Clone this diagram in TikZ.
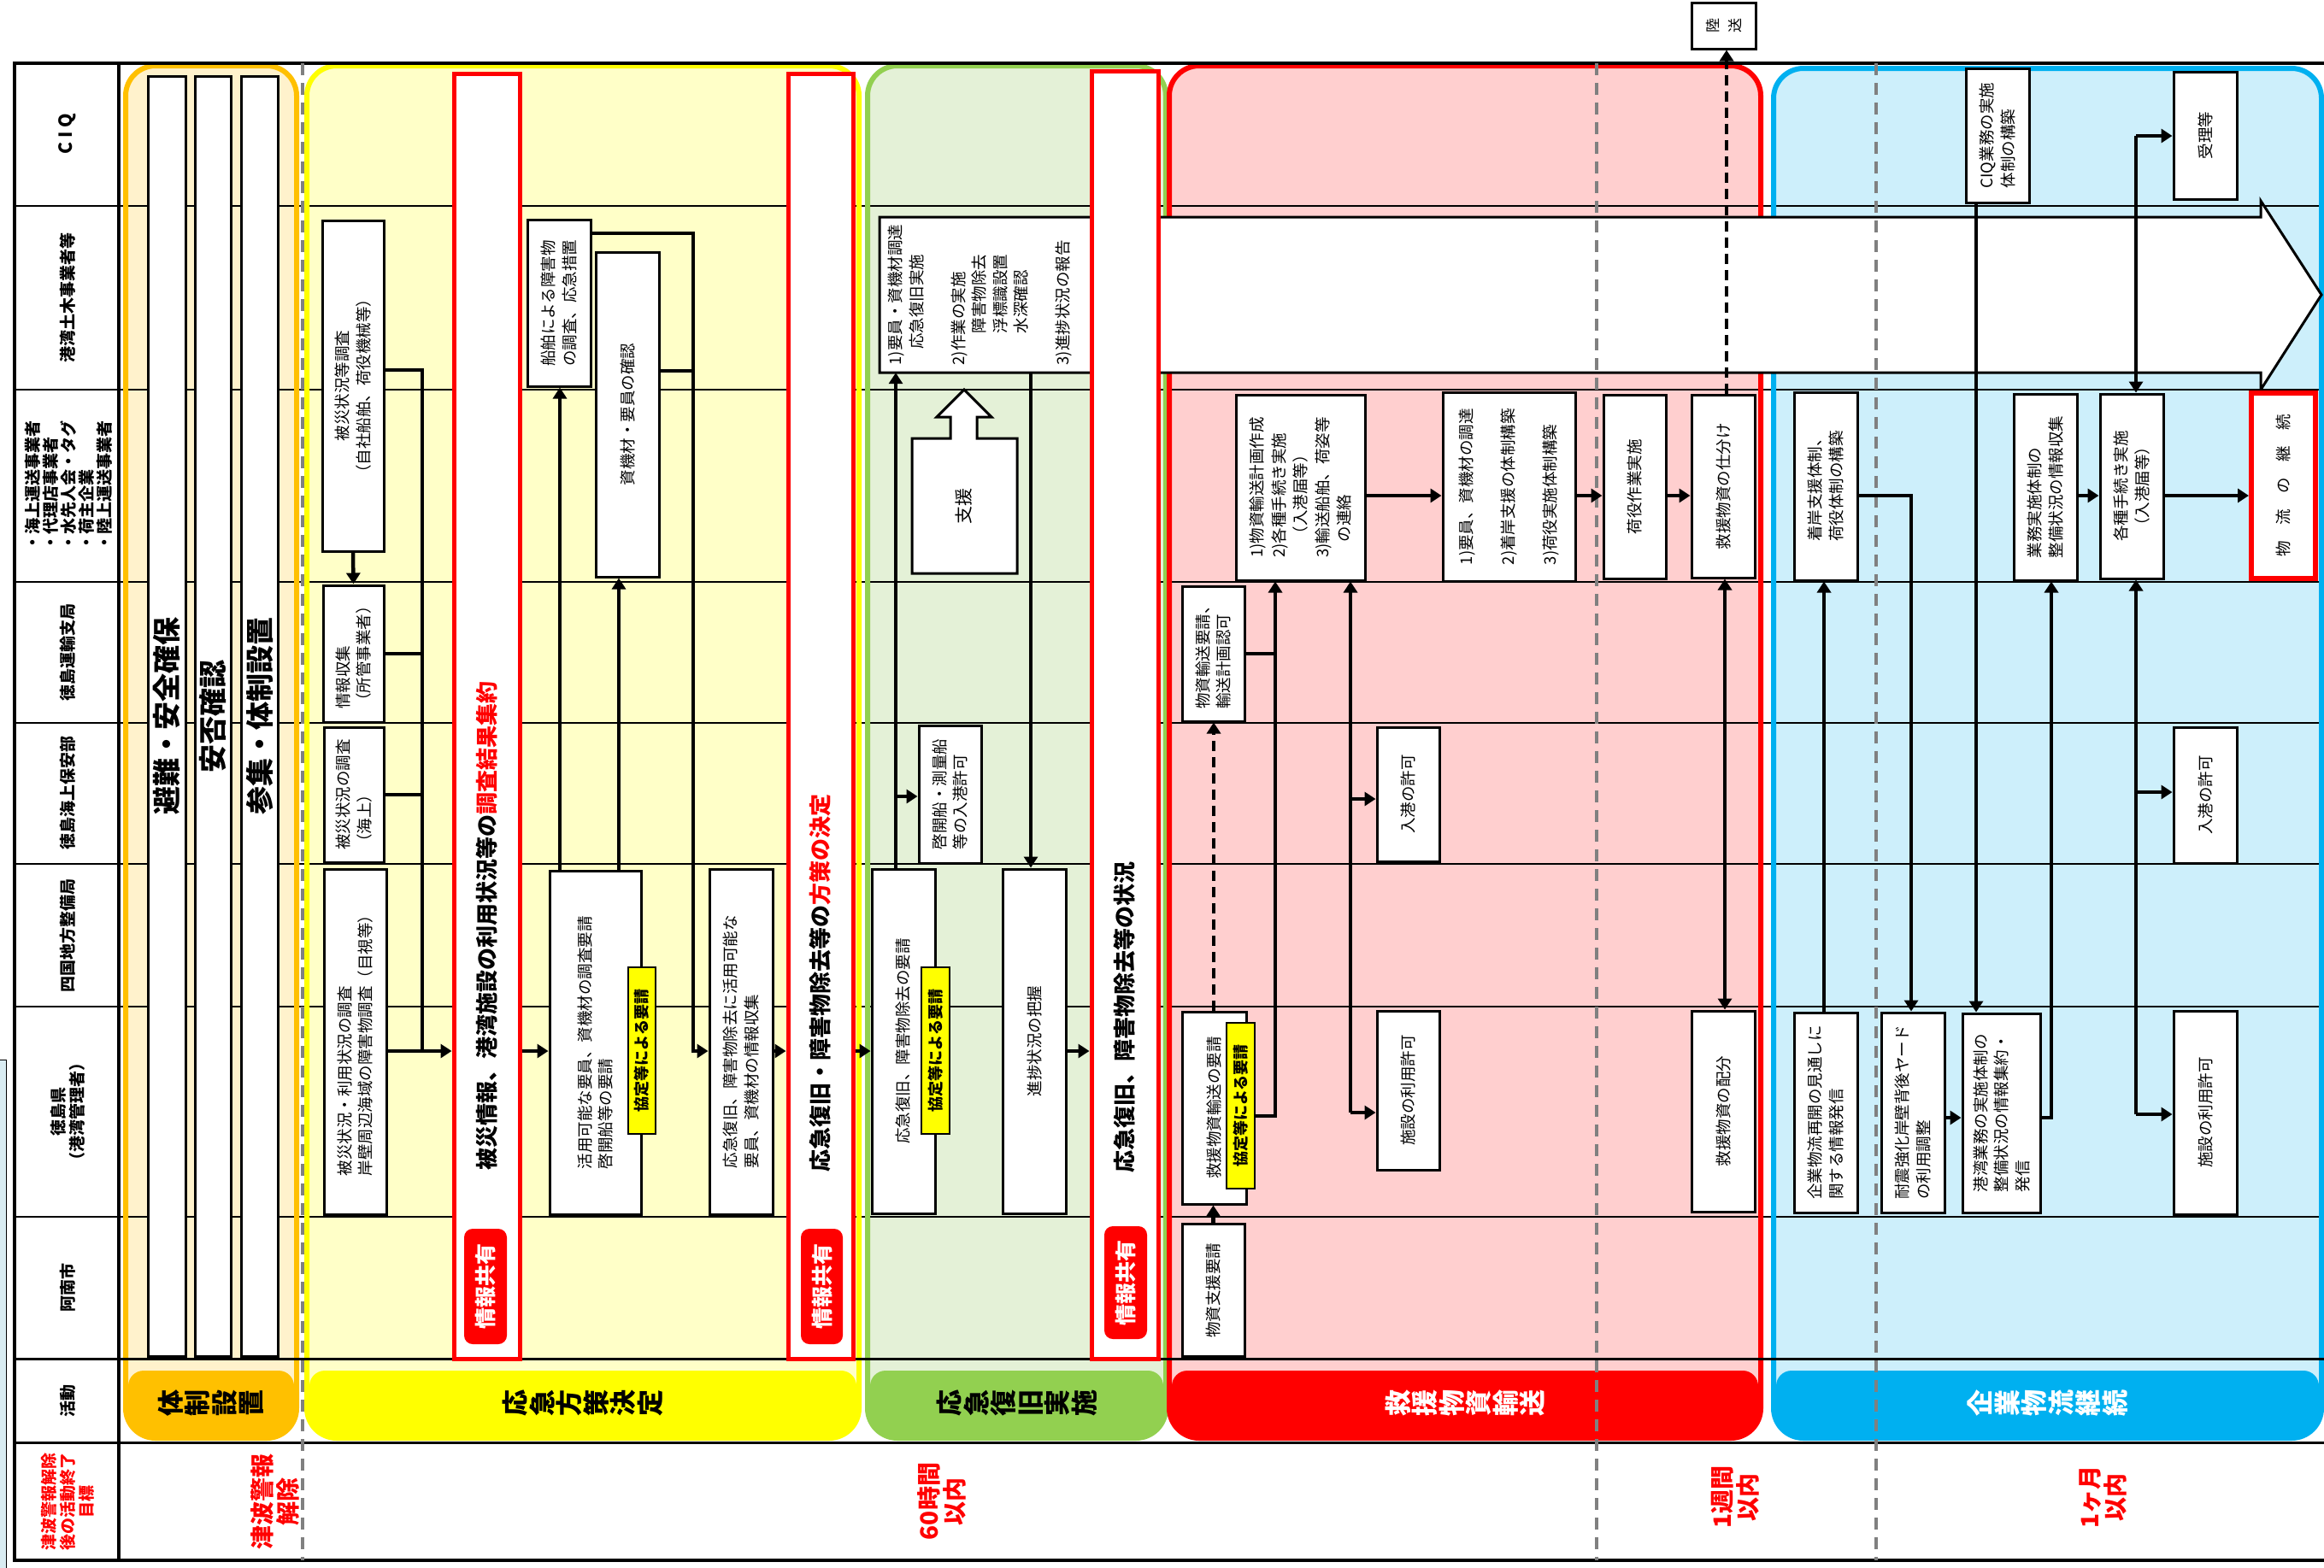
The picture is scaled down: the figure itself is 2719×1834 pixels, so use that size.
\documentclass[tikz,border=0pt]{standalone}
\usepackage{fontspec}
\setmainfont{Noto Sans CJK JP}
\usetikzlibrary{arrows.meta}
\definecolor{phorange}{HTML}{FFC000}
\definecolor{phorangebg}{HTML}{FFF2CC}
\definecolor{phyellow}{HTML}{FFFF00}
\definecolor{phyellowbg}{HTML}{FFFFC8}
\definecolor{phgreen}{HTML}{92D050}
\definecolor{phgreenbg}{HTML}{E4F1D7}
\definecolor{phred}{HTML}{FF0000}
\definecolor{phredbg}{HTML}{FFCFCF}
\definecolor{phblue}{HTML}{00B0F0}
\definecolor{phbluebg}{HTML}{CDEFFB}
\definecolor{lanegray}{HTML}{808080}
\definecolor{edgeblue}{HTML}{D9ECF2}
\newcommand{\bxfont}{\fontsize{18.5}{24.5}\selectfont}
\newcommand{\hdfont}{\fontsize{19}{22}\selectfont\bfseries}
\newcommand{\kyofont}{\fontsize{18}{18}\selectfont\bfseries}
\newcommand{\sharefont}{\fontsize{25}{25}\selectfont\bfseries}
\newcommand{\barfont}{\fontsize{26}{26}\selectfont\bfseries}
\newcommand{\phfont}{\fontsize{31}{31.5}\selectfont\bfseries}
\newcommand{\goalfont}{\fontsize{28}{30}\selectfont\bfseries}
\newcommand{\safefont}{\fontsize{33}{33}\selectfont\bfseries}

\begin{document}
\begin{tikzpicture}[x=1pt, y=-1pt,
  bx/.style={draw, fill=white, line width=3pt, rotate=90, inner sep=2pt, font=\bxfont, align=left},
  bxc/.style={bx, align=center},
  sz/.style 2 args={minimum height=#1pt, minimum width=#2pt},
  kyo/.style={draw, fill=phyellow, line width=2.5pt, rotate=90, inner sep=0pt, font=\kyofont},
  infobar/.style={draw=phred, fill=white, line width=5pt, rotate=90},
  share/.style={fill=phred, rounded corners=10pt, rotate=90, text=white, inner sep=0pt, font=\sharefont},
  bartext/.style={rotate=90, anchor=west, inner sep=0pt, font=\barfont},
  hdr/.style={rotate=90, align=center, font=\hdfont},
  phbar/.style={rounded corners=18pt, rotate=90, align=center, inner sep=0pt, font=\phfont},
  goal/.style={rotate=90, align=center, text=phred, font=\goalfont},
  ln/.style={line width=4.5pt},
  arr/.style={ln, -{Triangle[length=13pt, width=16pt]}},
  dashln/.style={dash pattern=on 12pt off 7pt},
  lanedash/.style={draw=lanegray, line width=4pt, dash pattern=on 14pt off 9pt}
]
\useasboundingbox (0,0) rectangle (2719,1834);
\draw[line width=1pt, fill=edgeblue] (-2,1240) rectangle (7,1840);

% phases
\fill[phorangebg, rounded corners=35pt] (147,77) rectangle (347,1683);
\fill[phyellowbg, rounded corners=35pt] (359,77) rectangle (1005,1683);
\fill[phgreenbg, rounded corners=35pt] (1015,77) rectangle (1364,1683);
\fill[phredbg, rounded corners=35pt] (1368,77) rectangle (2060,1683);
\fill[phbluebg, rounded corners=35pt] (2075,80) rectangle (2716,1683);

\draw[line width=1.5pt] (17,241) -- (2719,241) (17,456) -- (2719,456)
  (17,681) -- (2719,681) (17,846) -- (2719,846) (17,1011) -- (2719,1011)
  (17,1178) -- (2719,1178) (17,1424) -- (2719,1424);

\draw[phorange, line width=6pt, rounded corners=35pt] (147,77) rectangle (347,1683);
\draw[phyellow, line width=6pt, rounded corners=35pt] (359,77) rectangle (1005,1683);
\draw[phgreen, line width=6pt, rounded corners=35pt] (1015,77) rectangle (1364,1683);
\draw[phred, line width=6pt, rounded corners=35pt] (1368,77) rectangle (2060,1683);
\draw[phblue, line width=6pt, rounded corners=35pt] (2075,80) rectangle (2716,1683);

\node[phbar, fill=phorange, sz={194}{76}] (lab1) at (247,1642) {体\\制\\設\\置};
\node[phbar, fill=phyellow, sz={640}{76}] (lab2) at (682,1642) {応\\急\\方\\策\\決\\定};
\node[phbar, fill=phgreen, sz={343}{76}] (lab3) at (1189.5,1642) {応\\急\\復\\旧\\実\\施};
\node[phbar, fill=phred, text=white, sz={686}{76}] (lab4) at (1714,1642) {救\\援\\物\\資\\輸\\送};
\node[phbar, fill=phblue, text=white, sz={635}{76}] (lab5) at (2395.5,1642) {企\\業\\物\\流\\継\\続};

% frame
\draw[line width=4pt] (2719,74) -- (17,74) -- (17,1826) -- (2719,1826);
\draw[line width=4pt] (139,74) -- (139,1826);
\draw[line width=3pt] (17,1590) -- (2719,1590) (17,1688) -- (2719,1688);

% big arrow and support arrow
\draw[line width=3pt, fill=white] (1029,254) -- (2645,254) -- (2645,235) -- (2716,345)
  -- (2645,456) -- (2645,436) -- (1029,436) -- cycle;
\draw[line width=3pt, fill=white] (1067,671) -- (1067,513) -- (1112,513) -- (1112,488)
  -- (1096,488) -- (1128,456) -- (1160,488) -- (1143,488) -- (1143,513) -- (1190,513)
  -- (1190,671) -- cycle;
\node[rotate=90, font=\fontsize{21}{21}\selectfont] (shien) at (1128,592) {支援};

\draw[lanedash] (354,74) -- (354,1826) (1868,74) -- (1868,1826) (2195,74) -- (2195,1826);

% header
\node[hdr, font=\fontsize{21}{21}\selectfont\bfseries] (hciq) at (79,157) {C I Q};
\node[hdr] (hcivil) at (79,348) {港湾土木事業者等};
\node[hdr, align=left, font=\fontsize{19}{21}\selectfont\bfseries] (hship) at (80,568)
  {・海上運送事業者\\・代理店事業者\\・水先人会・タグ\\・荷主企業\\・陸上運送事業者};
\node[hdr] (hmlit) at (79,763) {徳島運輸支局};
\node[hdr] (hcg) at (79,928) {徳島海上保安部};
\node[hdr] (hsrb) at (79,1095) {四国地方整備局};
\node[hdr] (hpref) at (79,1301) {徳島県\\（港湾管理者）};
\node[hdr] (hcity) at (79,1507) {阿南市};
\node[hdr] (hact) at (79,1639) {活動};
\node[hdr, text=phred] (hgoal) at (79,1757) {津波警報解除\\後の活動終了\\目標};

\node[goal] (goal0) at (322,1757) {津波警報\\解除};
\node[goal] (goal60) at (1102,1757) {60時間\\以内};
\node[goal] (goalweek) at (2030,1752) {1週間\\以内};
\node[goal] (goalmonth) at (2460,1752) {1ヶ月\\以内};

% first phase
\node[bxc, font=\safefont, sz={44}{1498}] (evac) at (195,838) {避難・安全確保};
\node[bxc, font=\safefont, sz={42}{1498}] (safety) at (249,838) {安否確認};
\node[bxc, font=\safefont, sz={43}{1498}] (muster) at (303.5,838) {参集・体制設置};

% information sharing bars
\node[infobar, sz={77}{1504}] (barA) at (569.5,838) {};
\node[bartext] (txtA) at (570,1370) {被災情報、港湾施設の利用状況等の\textcolor{phred}{調査結果集約}};
\node[share, sz={50}{135}] (shA) at (568,1505.5) {情報共有};
\node[infobar, sz={76}{1504}] (barB) at (960,838) {};
\node[bartext] (txtB) at (960,1372) {応急復旧・障害物除去等の\textcolor{phred}{方策の決定}};
\node[share, sz={49}{135}] (shB) at (961.5,1505.5) {情報共有};
\node[infobar, sz={78}{1507}] (barC) at (1316,836.5) {};
\node[bartext] (txtC) at (1316,1373) {応急復旧、障害物除去等の状況};
\node[share, sz={50}{132}] (shC) at (1317,1501) {情報共有};

% decision phase
\node[bxc, sz={72}{387}] (svy) at (413,451.5) {被災状況等調査\\（自社船舶、荷役機械等）};
\node[bx, sz={71}{160}] (info) at (413.5,765) {情報収集\\（所管事業者）};
\node[bx, sz={70}{158}] (sea) at (414,930) {被災状況の調査\\（海上）};
\node[bx, sz={73}{404}] (util) at (415.5,1219) {被災状況・利用状況の調査\\岸壁周辺海域の障害物調査（目視等）};
\node[bx, sz={74}{195}] (ship) at (654,354.5) {船舶による障害物\\の調査、応急措置};
\node[bxc, sz={74}{380}] (equip) at (734,485) {資機材・要員の確認};
\node[bx, sz={107}{402}] (req) at (696.5,1220) {活用可能な要員、資機材の調査要請\\啓開船等の要請};
\node[kyo, sz={32}{195}] (reqkyo) at (751,1229.5) {協定等による要請};
\node[bx, sz={74}{404}] (gather) at (867,1219) {応急復旧、障害物除去に活用可能な\\要員、資機材の情報収集};

% restoration phase
\node[rotate=90, font=\bxfont, align=left, inner sep=0pt, sz={248}{182}] (g1) at (1147,345)
  {1)要員・資機材調達\\　応急復旧実施\\[24.5pt]2)作業の実施\\　　障害物除去\\　　浮標識設置\\　　水深確認\\[24.5pt]3)進捗状況の報告};
\node[bx, sz={73}{161}] (permit1) at (1111.5,929.5) {啓開船・測量船\\等の入港許可};
\node[bxc, sz={74}{403}] (restore) at (1057,1218.5) {応急復旧、障害物除去の要請};
\node[kyo, sz={33}{195}] (restkyo) at (1094.5,1229.5) {協定等による要請};
\node[bxc, sz={74}{403}] (progress) at (1210,1218.5) {進捗状況の把握};

% relief phase
\node[bxc, sz={73}{155}] (aidreq) at (1419.5,1510) {物資支援要請};
\node[bxc, sz={75}{225}] (reliefreq) at (1420.5,1296.5) {救援物資輸送の要請};
\node[kyo, sz={33}{194}] (reliefkyo) at (1451.5,1294) {協定等による要請};
\node[bx, sz={73}{158}] (trreq) at (1419.5,765) {物資輸送要請、\\輸送計画認可};
\node[bx, font=\fontsize{18.5}{25.5}\selectfont, sz={151}{217}] (plan) at (1521.5,570.5)
  {1)物資輸送計画作成\\2)各種手続き実施\\　（入港届等）\\3)輸送船舶、荷姿等\\　の連絡};
\node[bxc, sz={73}{157}] (portpermit) at (1647.5,929.5) {入港の許可};
\node[bxc, sz={73}{186}] (usepermit) at (1647.5,1276) {施設の利用許可};
\node[bx, font=\fontsize{18.5}{49}\selectfont, sz={155}{221}] (staff) at (1765.5,569.5)
  {1)要員、資機材の調達\\2)着岸支援の体制構築\\3)荷役実施体制構築};
\node[bxc, sz={73}{215}] (cargo) at (1912.5,569.5) {荷役作業実施};
\node[bxc, sz={74}{214}] (sort) at (2016,569) {救援物資の仕分け};
\node[bxc, sz={74}{235}] (dist) at (2016,1300.5) {救援物資の配分};
\node[bxc, font=\fontsize{17}{26}\selectfont, sz={75}{54}] (land) at (2016.5,30) {陸\\送};

% logistics phase
\node[bx, sz={74}{220}] (berth) at (2136,569) {着岸支援体制、\\荷役体制の構築};
\node[bx, sz={74}{234}] (outlook) at (2136,1302) {企業物流再開の見通しに\\関する情報発信};
\node[bx, sz={74}{157}] (ciq) at (2337,158.5) {CIQ業務の実施\\体制の構築};
\node[bxc, sz={74}{149}] (accept) at (2580,158.5) {受理等};
\node[bx, sz={74}{218}] (collect) at (2393,570) {業務実施体制の\\整備状況の情報収集};
\node[bxc, sz={74}{216}] (proc) at (2494,569) {各種手続き実施\\（入港届等）};
\node[bxc, draw=phred, line width=6pt, sz={75}{217}] (cont) at (2671.5,568.5) {物　流　の　継　続};
\node[bxc, sz={74}{159}] (portpermit2) at (2580,930.5) {入港の許可};
\node[bxc, sz={74}{238}] (usepermit2) at (2580,1302) {施設の利用許可};
\node[bx, sz={74}{234}] (yard) at (2238,1302) {耐震強化岸壁背後ヤード\\の利用調整};
\node[bx, sz={91}{233}] (portinfo) at (2341.5,1302.5) {港湾業務の実施体制の\\整備状況の情報集約・\\発信};

% connectors
\draw[arr] (svy.west) -- (info.east);
\draw[ln] (svy.south |- 0,433) -| (494,1230);
\draw[ln] (info.south) -- (info.south -| 494,0);
\draw[ln] (sea.south) -- (sea.south -| 494,0);
\draw[arr] (util.south |- 0,1230) -- (barA.north |- 0,1230);
\draw[arr] (barA.south |- 0,1230) -- (req.north |- 0,1230);
\draw[arr] (req.east -| 655,0) -- (ship.west -| 655,0);
\draw[arr] (req.east -| 724,0) -- (equip.west -| 724,0);
\draw[ln] (equip.south |- 0,434) -- (811,434);
\draw[arr] (ship.south |- 0,273) -| (811,1230) -- (gather.north |- 0,1230);
\draw[arr] (gather.south |- 0,1230) -- (barB.north |- 0,1230);
\draw[arr] (barB.south |- 0,1230) -- (restore.north |- 0,1230);

\draw[arr] (restore.east -| 1048,0) -- (g1.west -| 1048,0);
\draw[arr] (1048,932) -- (permit1.north |- 0,932);
\draw[arr] (g1.west -| 1206,0) -- (progress.east -| 1206,0);
\draw[arr] (progress.south |- 0,1230) -- (barC.north |- 0,1230);

\draw[arr] (aidreq.east) -- (aidreq.east |- reliefreq.west);
\draw[arr, dashln] (reliefreq.east -| 1420,0) -- (trreq.west -| 1420,0);
\draw[arr] (reliefkyo.south |- 0,1306) -| (plan.west -| 1492,0);
\draw[ln] (trreq.south) -- (trreq.south -| 1492,0);
\draw[arr] (1580,1302) -- (plan.west -| 1580,0);
\draw[arr] (1580,1302) -- (usepermit.north |- 0,1302);
\draw[arr] (1580,935) -- (portpermit.north |- 0,935);
\draw[arr] (plan.south |- 0,580) -- (staff.north |- 0,580);
\draw[arr] (staff.south |- 0,580) -- (cargo.north |- 0,580);
\draw[arr] (cargo.south |- 0,580) -- (sort.north |- 0,580);
\draw[arr, dashln] (sort.east -| 2020,0) -- (land.west -| 2020,0);
\draw[ln, {Triangle[length=13pt, width=16pt]}-{Triangle[length=13pt, width=16pt]}]
  (sort.west -| 2018,0) -- (dist.east -| 2018,0);

\draw[arr] (outlook.east -| 2134,0) -- (berth.west -| 2134,0);
\draw[arr] (berth.south |- 0,580) -| (yard.east -| 2236,0);
\draw[arr] (ciq.west -| 2312,0) -- (portinfo.east -| 2312,0);
\draw[arr] (yard.south |- 0,1308) -- (portinfo.north |- 0,1308);
\draw[arr] (portinfo.south |- 0,1308) -| (collect.west -| 2400,0);
\draw[arr] (collect.south |- 0,580) -- (proc.north |- 0,580);
\draw[arr] (proc.south |- 0,580) -- (cont.north |- 0,580);
\draw[arr] (2499,159) -- (accept.north |- 0,159);
\draw[arr] (2499,159) -- (proc.east -| 2499,0);
\draw[arr] (2499,1304) -- (proc.west -| 2499,0);
\draw[arr] (2499,1304) -- (usepermit2.north |- 0,1304);
\draw[arr] (2499,927) -- (portpermit2.north |- 0,927);
\end{tikzpicture}
\end{document}
